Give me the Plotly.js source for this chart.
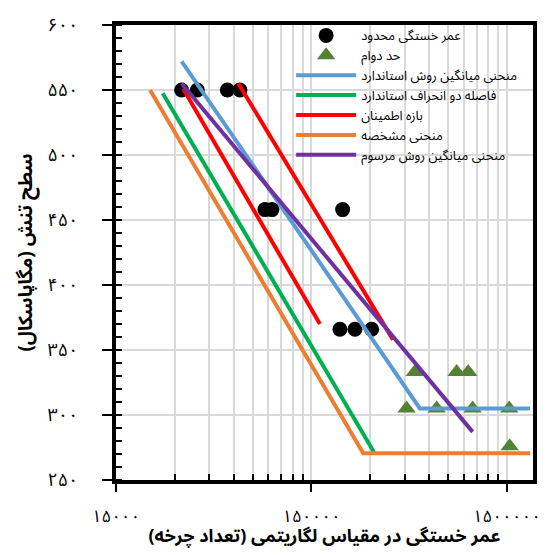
<!DOCTYPE html>
<html>
<head>
<meta charset="utf-8">
<script src="https://cdn.plot.ly/plotly-3.0.1.min.js"></script>
<style>html,body{margin:0;padding:0;background:#fff}#chart{width:553px;height:555px}</style>
</head>
<body>
<div id="chart"></div>
<script>
// Finite fatigue life points (cycles, MPa)
var finiteN = [32500, 39100, 55700, 64600, 86700, 94200, 216600, 209800, 250400, 304800];
var finiteS = [550, 550, 550, 550, 458, 458, 458, 366, 366, 366];
// Endurance limit (run-out) points
var enduranceN = [507000, 830000, 951000, 460000, 656000, 1002000, 1542000, 1550000];
var enduranceS = [333, 333, 333, 305, 305, 305, 305, 276];
// Mean curve, standard method
var meanStdN = [32500, 538000, 1970000];
var meanStdS = [572, 305, 305];
// Two standard deviation curve
var twoSigmaN = [26000, 313000];
var twoSigmaS = [547.5, 271.5];
// Confidence interval (two segments)
var confN = [33100, 165800, null, 63400, 391800];
var confS = [551, 370, null, 555, 358];
// Characteristic curve
var charN = [22400, 276000, 1970000];
var charS = [550, 270.5, 270.5];
// Mean curve, conventional method
var convN = [32500, 1002000];
var convS = [555, 287];

var names = [
  'عمر خستگی محدود',
  'حد دوام',
  'منحنی میانگین روش استاندارد',
  'فاصله دو انحراف استاندارد',
  'بازه اطمینان',
  'منحنی مشخصه',
  'منحنی میانگین روش مرسوم'
];

var xTickVals = [15000, 150000, 1500000];
var xTickText = ['۱۵۰۰۰', '۱۵۰۰۰۰', '۱۵۰۰۰۰۰'];
var yTickVals = [250, 300, 350, 400, 450, 500, 550, 600];
var yTickText = ['۲۵۰', '۳۰۰', '۳۵۰', '۴۰۰', '۴۵۰', '۵۰۰', '۵۵۰', '۶۰۰'];
var minorMult = [2, 3, 4, 5, 6, 7, 8, 9];
var xMinorVals = [];
xTickVals.forEach(function (d) { minorMult.forEach(function (m) { xMinorVals.push(d * m); }); });

var FONT = '"Noto Sans Arabic", "DejaVu Sans", "Noto Sans", sans-serif';
var LW = 4;

var traces = [
  {x: finiteN, y: finiteS, name: names[0], mode: 'markers', type: 'scatter',
   marker: {symbol: 'circle', size: 15, color: '#000000'}},
  {x: enduranceN, y: enduranceS, name: names[1], mode: 'markers', type: 'scatter',
   marker: {symbol: 'triangle-up', size: 16, color: '#548235'}},
  {x: meanStdN, y: meanStdS, name: names[2], mode: 'lines', type: 'scatter',
   line: {color: '#5B9BD5', width: LW}},
  {x: twoSigmaN, y: twoSigmaS, name: names[3], mode: 'lines', type: 'scatter',
   line: {color: '#00B050', width: LW}},
  {x: confN, y: confS, name: names[4], mode: 'lines', type: 'scatter', connectgaps: false,
   line: {color: '#FF0000', width: LW}},
  {x: charN, y: charS, name: names[5], mode: 'lines', type: 'scatter',
   line: {color: '#ED7D31', width: LW}},
  {x: convN, y: convS, name: names[6], mode: 'lines', type: 'scatter',
   line: {color: '#7030A0', width: LW}}
];

var layout = {
  width: 553, height: 555,
  margin: {l: 116, r: 20, t: 25, b: 75},
  paper_bgcolor: '#ffffff', plot_bgcolor: '#ffffff',
  font: {family: FONT, color: '#000000', size: 15},
  showlegend: true,
  legend: {x: 0.42, y: 1.01, xanchor: 'left', yanchor: 'top',
           bgcolor: 'rgba(0,0,0,0)', borderwidth: 0, itemwidth: 60,
           font: {family: FONT, size: 13, color: '#000000'}, tracegroupgap: 0},
  xaxis: {
    type: 'log',
    automargin: false,
    range: [Math.log10(15000), Math.log10(2040000)],
    tickmode: 'array', tickvals: xTickVals, ticktext: xTickText,
    ticks: 'outside', ticklen: 8, tickwidth: 2, tickcolor: '#000',
    ticklabelstandoff: 10,
    showgrid: true, gridcolor: '#D9D9D9', gridwidth: 2,
    minor: {tickmode: 'array', tickvals: xMinorVals, ticks: 'inside', ticklen: 6,
            tickwidth: 2, tickcolor: '#000', showgrid: true, gridcolor: '#D9D9D9', gridwidth: 2},
    showline: true, linecolor: '#000', linewidth: 4, mirror: true,
    zeroline: false,
    tickfont: {family: FONT, size: 17, color: '#000'},
    title: {text: 'عمر خستگی در مقیاس لگاریتمی (تعداد چرخه)\u200F',
            font: {family: FONT, size: 18, color: '#000', weight: 'bold'}}
  },
  yaxis: {
    range: [250, 600],
    tickmode: 'array', tickvals: yTickVals, ticktext: yTickText,
    ticks: 'outside', ticklen: 10, tickwidth: 2, tickcolor: '#000',
    ticklabelstandoff: 20,
    showgrid: true, gridcolor: '#D9D9D9', gridwidth: 2,
    minor: {dtick: 10, tick0: 250, ticks: 'inside', ticklen: 6, tickwidth: 2,
            tickcolor: '#000', showgrid: false},
    showline: true, linecolor: '#000', linewidth: 4, mirror: true,
    zeroline: false,
    tickfont: {family: FONT, size: 18, color: '#000'},
    title: {text: 'سطح تنش (مگاپاسکال)\u200F',
            font: {family: FONT, size: 19, color: '#000', weight: 'bold'}}
  }
};

Plotly.newPlot('chart', traces, layout, {displayModeBar: false, staticPlot: true});
</script>
</body>
</html>
